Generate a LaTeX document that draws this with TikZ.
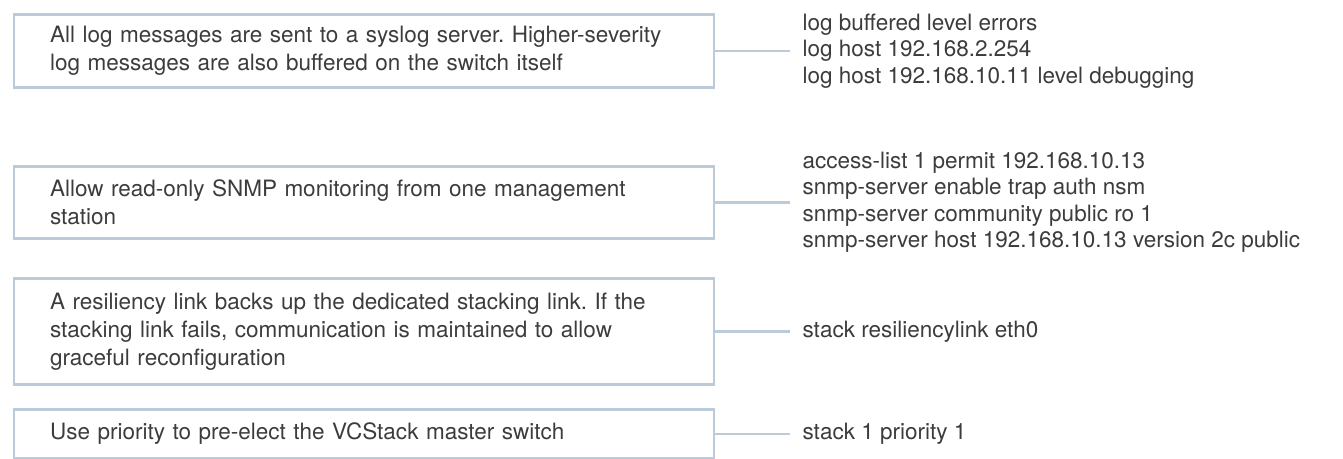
\documentclass[tikz,border=0pt]{standalone}
\usepackage{fontspec}
\setmainfont{TeX Gyre Heros}
\frenchspacing
\definecolor{frame}{HTML}{BCCBDA}
\definecolor{ink}{HTML}{3C3C3C}
\tikzset{
  notebox/.style={draw=frame, line width=2.7pt, anchor=north west,
    text width=628pt, inner xsep=36pt, inner ysep=0pt, align=left,
    font=\fontsize{22.5}{28}\selectfont, text=ink},
  cmdtext/.style={anchor=west, inner xsep=12pt, inner ysep=0pt, align=left,
    font=\fontsize{22.5}{26.5}\selectfont, text=ink},
  link/.style={draw=frame, line width=2.7pt}
}
\begin{document}
\begin{tikzpicture}[x=1pt, y=-1pt]
  \useasboundingbox (0,0) rectangle (1343,458);

  % explanation boxes
  \node[notebox, minimum height=73pt] (n1) at (12.7,13)
    {All log messages are sent to a syslog server. Higher-severity\\
     log messages are also buffered on the switch itself};
  \node[notebox, minimum height=72pt] (n2) at (12.7,165)
    {Allow read-only SNMP monitoring from one management\\
     station};
  \node[notebox, minimum height=106pt] (n3) at (12.7,277)
    {A resiliency link backs up the dedicated stacking link. If the\\
     stacking link fails, communication is maintained to allow\\
     graceful reconfiguration};
  \node[notebox, minimum height=49pt] (n4) at (12.7,408)
    {Use priority to pre-elect the VCStack master switch};

  % configuration commands
  \node[cmdtext] (c1) at ([xshift=75pt]n1.east)
    {log buffered level errors\\
     log host 192.168.2.254\\
     log host 192.168.10.11 level debugging};
  \node[cmdtext] (c2) at ([xshift=75pt]n2.east)
    {access-list 1 permit 192.168.10.13\\
     snmp-server enable trap auth nsm\\
     snmp-server community public ro 1\\
     snmp-server host 192.168.10.13 version 2c public};
  \node[cmdtext] (c3) at ([xshift=75pt]n3.east)
    {stack resiliencylink eth0};
  \node[cmdtext] (c4) at ([xshift=75pt]n4.east)
    {stack 1 priority 1};

  % leader lines
  \draw[link] (n1.east) -- (c1.west);
  \draw[link] (n2.east) -- (c2.west);
  \draw[link] (n3.east) -- (c3.west);
  \draw[link] (n4.east) -- (c4.west);
\end{tikzpicture}
\end{document}
